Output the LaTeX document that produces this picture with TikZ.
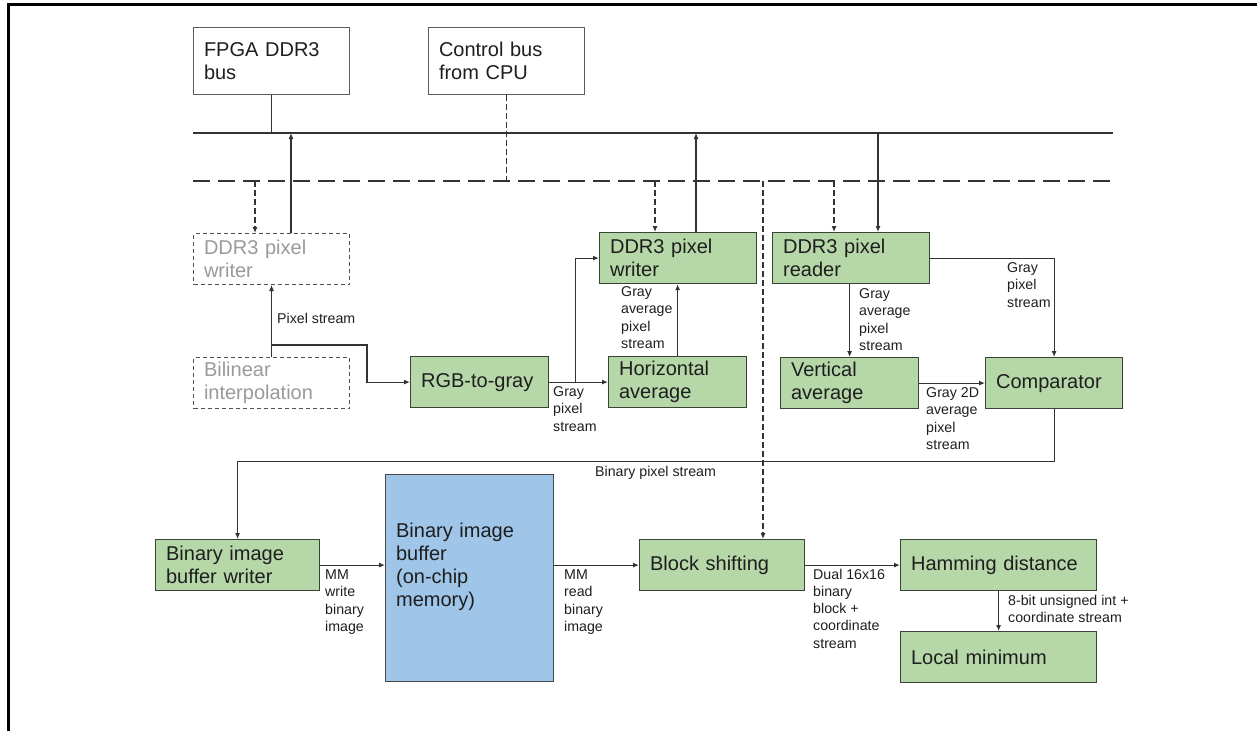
\documentclass[tikz,border=0pt]{standalone}
\usepackage{fontspec}
\setmainfont{Liberation Sans}
\usetikzlibrary{arrows.meta,calc}

\definecolor{blkfill}{HTML}{B6D7A8}
\definecolor{buffill}{HTML}{9FC5E8}
\definecolor{boxline}{HTML}{3A4436}
\definecolor{lnc}{HTML}{333333}
\definecolor{txt}{HTML}{1E1E1E}
\definecolor{faded}{HTML}{9A9A9A}

\newcommand\blkfont{\fontsize{20}{23}\selectfont}
\newcommand\lblfont{\fontsize{14.2}{17.3}\selectfont}

\tikzset{
  box/.style={rectangle, draw=boxline, line width=1.2pt, fill=blkfill,
    inner xsep=10.5pt, inner ysep=0pt, anchor=north west, align=left,
    font=\blkfont, text=txt},
  plainbox/.style={box, draw=lnc!80, fill=white, line width=1pt},
  ghostbox/.style={box, draw=lnc!85, fill=white, line width=1pt,
    dash pattern=on 4pt off 3pt, text=faded},
  membox/.style={box, fill=buffill, draw=lnc!90},
  lbl/.style={inner sep=0pt, anchor=north west, align=left,
    font=\lblfont, text=txt},
  conn/.style={draw=lnc, line width=1.1pt},
  arr/.style={conn, -{Latex[length=6pt,width=5pt]}},
  ctl/.style={conn, dash pattern=on 6pt off 3pt},
  ctlarr/.style={ctl, -{Latex[length=6pt,width=5pt]}},
  busline/.style={draw=lnc, line width=2pt},
  ctlbus/.style={draw=lnc, line width=2.6pt, dash pattern=on 17pt off 8pt},
}

\begin{document}
\begin{tikzpicture}[x=1pt,y=-1pt]
\useasboundingbox (0,0) rectangle (1257,731);

% outer frame (left and top edges)
\draw[line width=3pt, black] (8,731) -- (8,4) -- (1257,4);

% external interfaces
\node[plainbox, text width=135pt, minimum height=67pt] (fpga) at (193,27) {FPGA DDR3\\bus};
\node[plainbox, text width=135pt, minimum height=67pt] (ctrl) at (428,27) {Control bus\\from CPU};

% data bus (solid) and control bus (dashed)
\coordinate (bl) at (193,133);
\coordinate (br) at (1113,133);
\coordinate (dl) at (193,181);
\coordinate (dr) at (1113,181);
\draw[busline] (bl) -- (br);
\draw[ctlbus] (dl) -- (dr);

% bus taps
\coordinate (p1) at (255,181);
\coordinate (p2) at (291,133);
\coordinate (p3) at (655,181);
\coordinate (p4) at (696,133);
\coordinate (p5) at (763,181);
\coordinate (p6) at (834,181);
\coordinate (p7) at (878,133);

% optional (disabled) stages
\node[ghostbox, text width=135pt, minimum height=51pt] (lw) at (193,233) {DDR3 pixel\\writer};
\node[ghostbox, text width=135pt, minimum height=51pt] (bil) at (193,357) {Bilinear\\interpolation};

% processing stages
\node[box, text width=117pt, minimum height=51pt] (rgb) at (410,356) {RGB-to-gray};
\node[box, text width=136pt, minimum height=51pt] (mw) at (599,232) {DDR3 pixel\\writer};
\node[box, text width=117pt, minimum height=51pt] (hav) at (608,356) {Horizontal\\average};
\node[box, text width=136pt, minimum height=51pt] (rd) at (772,232) {DDR3 pixel\\reader};
\node[box, text width=117pt, minimum height=51pt] (va) at (780,357) {Vertical\\average};
\node[box, text width=116pt, minimum height=51pt] (cmp) at (985,357) {Comparator};
\node[box, text width=143pt, minimum height=51pt] (bw) at (155,539) {Binary image\\buffer writer};
\node[membox, text width=147pt, minimum height=207pt, text depth=96pt] (buf) at (385,474) {Binary image\\buffer\\(on-chip\\memory)};
\node[box, text width=144pt, minimum height=51pt] (bs) at (639,539) {Block shifting};
\node[box, text width=175pt, minimum height=51pt] (hd) at (900,539) {Hamming distance};
\node[box, text width=175pt, minimum height=51pt] (lm) at (900,631) {Local minimum};

% bus connections
\draw[conn] (fpga.south) -- (fpga.south |- bl);
\draw[ctl] (ctrl.south) -- (ctrl.south |- dl);
\draw[ctlarr] (p1) -- (p1 |- lw.north);
\draw[arr] (p2 |- lw.north) -- (p2);
\draw[ctlarr] (p3) -- (p3 |- mw.north);
\draw[arr] (p4 |- mw.north) -- (p4);
\draw[ctlarr] (p5) -- (p5 |- bs.north);
\draw[ctlarr] (p6) -- (p6 |- rd.north);
\draw[arr] (p7) -- (p7 |- rd.north);

% pixel streams
\coordinate (j1) at ($(bil.north)+(0,-12)$);
\coordinate (j2) at ($(rgb.east)+(26,0)$);
\draw[arr] (bil.north) -- (lw.south);
\draw[arr] (j1) -| ($(rgb.west)+(-43,0)$) -- (rgb.west);
\draw[arr] (rgb.east) -- (hav.west);
\draw[arr] (j2) |- (mw.west);
\draw[arr] (hav.north) -- (hav.north |- mw.south);
\draw[arr] (rd.south -| va.north) -- (va.north);
\draw[arr] (rd.east) -| (cmp.north);
\draw[arr] (va.east) -- (cmp.west);
\draw[arr] (cmp.south) -- ++(0,52) -| (bw.north);
\draw[arr] (bw.east) -- (bw.east -| buf.west);
\draw[arr] (bs.west -| buf.east) -- (bs.west);
\draw[arr] (bs.east) -- (hd.west);
\draw[arr] (hd.south) -- (lm.north);

% stream labels
\node[lbl] (l1) at (277,313.5) {Pixel stream};
\node[lbl] (l2) at (553,386.5) {Gray\\pixel\\stream};
\node[lbl] (l3) at (621,286.5) {Gray\\average\\pixel\\stream};
\node[lbl] (l4) at (859,288.5) {Gray\\average\\pixel\\stream};
\node[lbl] (l5) at (1007,262.5) {Gray\\pixel\\stream};
\node[lbl] (l6) at (926,387.5) {Gray 2D\\average\\pixel\\stream};
\node[lbl] (l7) at (595,466.5) {Binary pixel stream};
\node[lbl] (l8) at (325,569.5) {MM\\write\\binary\\image};
\node[lbl] (l9) at (564,569.5) {MM\\read\\binary\\image};
\node[lbl] (l10) at (813,568.5) {Dual 16x16\\binary\\block +\\coordinate\\stream};
\node[lbl] (l11) at (1008,594.5) {8-bit unsigned int +\\coordinate stream};
\end{tikzpicture}
\end{document}
